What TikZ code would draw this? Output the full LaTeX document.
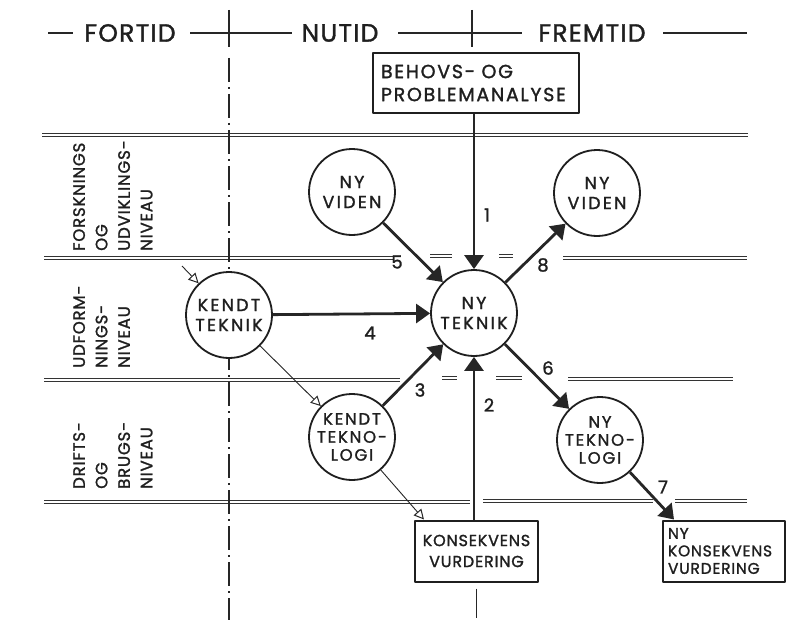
\documentclass[tikz,border=0pt]{standalone}
\usepackage{fontspec}
\setmainfont{Poppins}[FakeBold=1.4,LetterSpace=5]
\usetikzlibrary{arrows.meta,calc}

\begin{document}
\begin{tikzpicture}[x=1pt,y=-1pt,line join=round,
  every node/.style={text=black!88},
  sep/.style={draw=black!80,line width=1.1pt,double=white,double distance=1.6pt},
  rule/.style={draw=black!85,line width=1.1pt},
  axis/.style={draw=black!85,line width=1.2pt,dash pattern=on 24pt off 5pt on 2pt off 5pt},
  disc/.style={circle,draw=black!88,fill=white,line width=1.8pt,minimum size=86pt,
    inner sep=0pt,align=center,font=\fontsize{17.5}{20}\selectfont\addfontfeature{LetterSpace=13}},
  card/.style={rectangle,draw=black!88,fill=white,line width=2pt,minimum height=61pt},
  strong/.style={draw=black!85,line width=2.8pt,-{Triangle[length=14pt,width=19pt]}},
  weak/.style={draw=black!85,line width=0.9pt,-{Triangle[open,length=10pt,width=10pt,line width=1pt]}},
  num/.style={font=\fontsize{18}{18}\selectfont,inner sep=0pt},
  head/.style={font=\fontsize{25}{25}\selectfont,inner sep=0pt},
  band/.style={rotate=90,anchor=north west,align=left,inner sep=0pt,
    font=\fontsize{16.5}{22.5}\selectfont},
]
% canvas
\fill[white] (0,0) rectangle (804,642);
\useasboundingbox (0,0) rectangle (804,642);

% time axis heading
\node[head] (fortid) at (130,33) {FORTID};
\node[head] (nutid) at (340,33) {NUTID};
\node[head] (fremtid) at (592,33) {FREMTID};
\draw[rule] (48,33) -- (73,33);
\draw[rule] (190,33) -- (292,33);
\draw[rule] (398,33) -- (522,33);
\draw[rule] (663,33) -- (747,33);

% level separators
\draw[sep] (42,135) -- (748,135);
\draw[sep] (44,258) -- (393,258);
\draw[sep] (430,256) -- (452,256);
\draw[sep] (499,256) -- (513,256);
\draw[sep] (563,258) -- (747,258);
\draw[sep] (44,380) -- (400,380);
\draw[sep] (442,378) -- (457,378);
\draw[sep] (496,378) -- (522,378);
\draw[sep] (568,379) -- (733,379);
\draw[sep] (44,502) -- (470,502);
\draw[sep] (483,501) -- (653,501);
\draw[sep] (675,501) -- (747,501);

% period boundaries
\draw[rule,line width=1.2pt] (229,10) -- (229,47);
\draw[axis] (229,58) -- (229,620);
\draw[rule] (472,10) -- (472,47);

% level names
\node[band] (lvl1) at (73,251) {FORSKNINGS\\OG\\UDVIKLINGS-\\NIVEAU};
\node[band] (lvl2) at (73,368) {UDFORM-\\NINGS-\\NIVEAU};
\node[band] (lvl3) at (73,489) {DRIFTS-\\OG\\BRUGS-\\NIVEAU};

% boxes
\node[card,align=left,text width=190pt,inner xsep=8pt,minimum height=60pt,
  font=\fontsize{19}{23}\selectfont\addfontfeature{LetterSpace=9}] (behov) at (476,83) {BEHOVS- OG\\PROBLEMANALYSE};
\node[card,align=center,text width=119pt,inner xsep=2pt,
  font=\fontsize{16}{21}\selectfont] (konsekvens) at (476.5,551) {KONSEKVENS\\VURDERING};
\node[card,align=left,text width=112pt,inner xsep=5pt,
  font=\fontsize{15.5}{17.5}\selectfont] (nykonsekvens) at (724,551) {NY\\KONSEKVENS\\VURDERING};

% circles
\node[disc] (videnA) at (352,192) {NY\\VIDEN};
\node[disc] (videnB) at (597,193) {NY\\VIDEN};
\node[disc] (nyteknik) at (474,313) {NY\\TEKNIK};
\node[disc] (kteknik) at (229,315) {KENDT\\TEKNIK};
\node[disc,font=\fontsize{16.5}{18}\selectfont\addfontfeature{LetterSpace=11}] (kteknologi) at (352,437) {KENDT\\TEKNO-\\LOGI};
\node[disc,font=\fontsize{16.5}{18}\selectfont\addfontfeature{LetterSpace=11}] (nyteknologi) at (600,440) {NY\\TEKNO-\\LOGI};

% tail below the consequence box
\draw[rule] ([yshift=-6pt]konsekvens.south) -- ++(0,29);

% main flows
\draw[strong] (behov.south -| nyteknik) -- (nyteknik.north);
\draw[strong] (konsekvens.north -| nyteknik) -- (nyteknik.south);
\draw[strong] (videnA) -- (nyteknik);
\draw[strong] (kteknik) -- (nyteknik);
\draw[strong] (kteknologi) -- (nyteknik);
\draw[strong] (nyteknik) -- (videnB);
\draw[strong] (nyteknik) -- (nyteknologi);
\draw[strong] (nyteknologi) -- ([xshift=12pt]nykonsekvens.north west);

% secondary flows
\coordinate (outside) at (182,266);
\draw[weak] (outside) -- (kteknik);
\draw[weak] (kteknik) -- (kteknologi);
\draw[weak] (kteknologi) -- ([xshift=10pt]konsekvens.north west);

% flow numbers
\node[num] (n1) at (487,215) {1};
\node[num] (n2) at (489,405) {2};
\node[num] (n3) at (420,390) {3};
\node[num] (n4) at (370,333) {4};
\node[num] (n5) at (397,262) {5};
\node[num] (n6) at (548,368) {6};
\node[num] (n7) at (663,487) {7};
\node[num] (n8) at (543,265) {8};
\end{tikzpicture}
\end{document}
